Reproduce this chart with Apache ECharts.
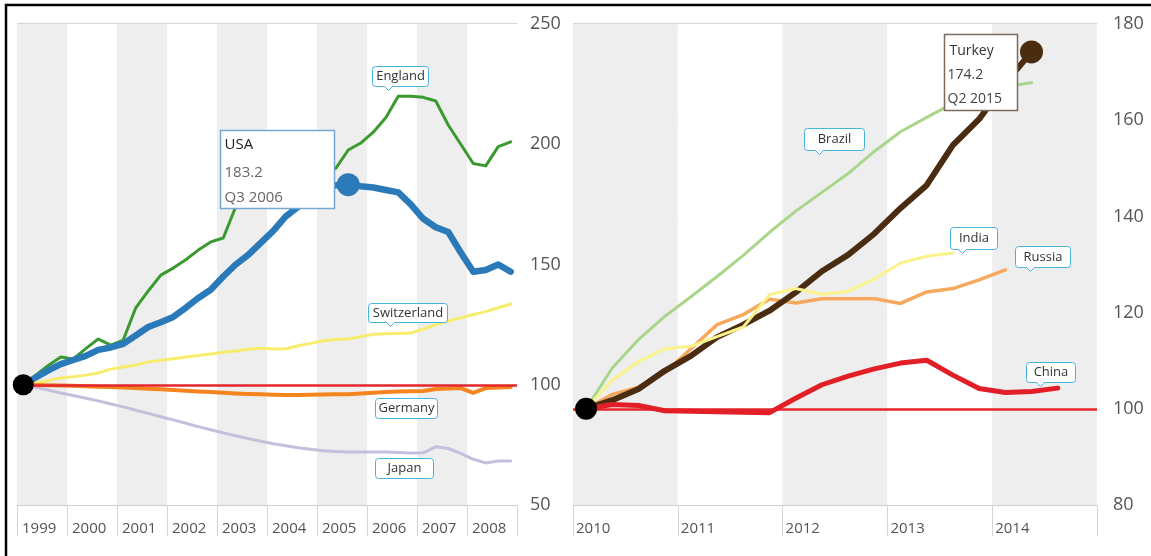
<!DOCTYPE html>
<html>
<head>
<meta charset="utf-8">
<script src="https://cdn.jsdelivr.net/npm/echarts@6/dist/echarts.min.js"></script>
<style>
  html, body { margin: 0; padding: 0; background: #fff; }
  #chart { width: 1151px; height: 556px; }
</style>
</head>
<body>
<div id="chart"></div>
<script>
// House price indices, quarterly, base = 100
const leftStartYear = 1999;
const leftYears = [1999, 2000, 2001, 2002, 2003, 2004, 2005, 2006, 2007, 2008];
const usa = [100, 103, 106, 108.6, 110.3, 112, 114.5, 115.5, 117, 120.5, 124, 126, 128.2, 132, 136.1, 139.5, 145, 150, 154, 159, 164, 170, 174, 178, 181, 183, 183.2, 182.5, 182, 181, 180, 175, 169, 165.5, 163.5, 155, 147, 147.7, 150, 147];
const england = [100, 104, 108, 111.5, 110.7, 115, 119, 116.5, 118.6, 132, 139, 145.6, 148.5, 152, 156, 159.4, 161, 174, 178, 180, 181.5, 183, 184.5, 185.5, 187, 190, 197.6, 200.5, 205, 211, 220, 220, 219.5, 218, 208, 200, 192, 191, 199, 201];
const switzerland = [100, 100.8, 101.8, 102.8, 103.3, 104, 104.9, 106.5, 107.4, 108.2, 109.5, 110.2, 110.8, 111.5, 112.2, 112.8, 113.5, 114, 114.8, 115.2, 114.9, 115, 116.2, 117.2, 118.3, 118.8, 119, 120, 121, 121.2, 121.3, 121.5, 123.2, 125, 126.5, 127.8, 129.2, 130.4, 132, 133.6];
const germany = [100, 99.9, 99.8, 99.7, 99.6, 99.4, 99.2, 99.1, 98.9, 98.6, 98.3, 98.1, 97.8, 97.5, 97.2, 97.0, 96.7, 96.4, 96.2, 96.0, 95.8, 95.7, 95.7, 95.8, 95.9, 96.0, 96.1, 96.4, 96.7, 97.0, 97.2, 97.3, 97.4, 98.2, 98.4, 98.6, 96.6, 98.6, 98.9, 99.1];
const japan = [100, 98.9, 97.8, 96.6, 95.5, 94.4, 93.3, 92.0, 90.8, 89.4, 88.1, 86.7, 85.4, 84.0, 82.6, 81.3, 80.0, 78.8, 77.6, 76.5, 75.5, 74.6, 73.8, 73.2, 72.6, 72.2, 72.0, 72.0, 72.0, 72.0, 71.8, 71.6, 71.7, 74.2, 73.5, 71.5, 69.0, 67.5, 68.3, 68.3];
const leftTicks = [50, 100, 150, 200, 250];

const rightStartYear = 2010;
const rightYears = [2010, 2011, 2012, 2013, 2014];
const brazil = [100, 108.5, 114.4, 119.2, 123.3, 127.5, 131.9, 136.7, 141.1, 145, 148.9, 153.5, 157.6, 160.6, 163.5, 165.5, 167, 167.8];
const turkey = [100, 101.8, 104.1, 107.9, 111, 114.9, 117.5, 120.4, 124.2, 128.6, 132, 136.4, 141.7, 146.5, 154.8, 160.2, 167.7, 174.2];
const india = [100, 106, 109.8, 112.5, 113, 115, 117, 123.7, 125, 123.8, 124.4, 127, 130.3, 131.7, 132.4];
const russia = [100, 103, 104.5, 107.5, 112.5, 117.5, 119.6, 122.8, 122, 122.9, 122.9, 122.9, 121.9, 124.3, 125, 126.8, 128.9];
const china = [100, 100.9, 100.7, 99.6, 99.5, 99.4, 99.3, 99.2, 102.2, 105, 106.8, 108.3, 109.5, 110.1, 107, 104.2, 103.4, 103.6, 104.3];
const rightTicks = [80, 100, 120, 140, 160, 180];

const baseline = 100;
const usaPick = { index: 26, label: 'USA', period: 'Q3 2006' };
const turkeyPick = { index: 17, label: 'Turkey', period: 'Q2 2015' };

const FONT = '"Open Sans", "Noto Sans", sans-serif';

// each quarter is plotted in the middle of its slot within the year band
function quarterPoints(startYear, values) {
  return values.map((v, i) => [startYear + (i + 0.5) / 4, v]);
}

function xAxisFor(gridIndex, years, labelPad) {
  const first = years[0], last = years[years.length - 1] + 1;
  return {
    type: 'value', gridIndex, min: first, max: last, interval: 1,
    axisLine: { show: true, lineStyle: { color: '#cfcfcf', width: 1 } },
    axisTick: { show: true, length: 31, lineStyle: { color: '#d4d4d4', width: 1 } },
    axisLabel: {
      show: true, align: 'left', padding: [0, 0, 0, labelPad], margin: 16,
      color: '#555', fontSize: 15, fontFamily: FONT,
      formatter: v => (years.indexOf(v) >= 0 ? String(v) : '')
    },
    splitLine: { show: false },
    splitArea: { show: true, areaStyle: { color: ['#eeeeee', '#ffffff'] } }
  };
}

function yAxisFor(gridIndex, ticks, margin) {
  return {
    type: 'value', gridIndex, position: 'right',
    min: ticks[0], max: ticks[ticks.length - 1], interval: ticks[1] - ticks[0],
    axisLine: { show: false }, axisTick: { show: false },
    axisLabel: { margin, color: '#555', fontSize: 18, fontFamily: FONT },
    splitLine: { show: true, lineStyle: { color: '#c9c9c9', width: 1.5 } }
  };
}

function lineSeries(name, axis, startYear, values, color, width, z) {
  return {
    name, type: 'line', xAxisIndex: axis, yAxisIndex: axis,
    data: quarterPoints(startYear, values),
    symbol: 'none', showSymbol: false, z,
    lineStyle: { color, width, join: 'round', cap: 'round' }
  };
}

function baseLine(axis, z) {
  return {
    name: 'base' + axis, type: 'line', xAxisIndex: axis, yAxisIndex: axis,
    data: [], symbol: 'none', z,
    markLine: {
      silent: true, symbol: 'none', animation: false,
      label: { show: false },
      lineStyle: { color: '#e3262b', width: 2.5, type: 'solid' },
      data: [{ yAxis: baseline }]
    }
  };
}

function dot(axis, point, color, size, z) {
  return {
    type: 'scatter', xAxisIndex: axis, yAxisIndex: axis,
    data: [point], symbolSize: size, z,
    itemStyle: { color, opacity: 1 }
  };
}

const usaPts = quarterPoints(leftStartYear, usa);
const turkeyPts = quarterPoints(rightStartYear, turkey);

const chart = echarts.init(document.getElementById('chart'), null, { renderer: 'canvas' });

chart.setOption({
  animation: false,
  backgroundColor: '#ffffff',
  grid: [
    { left: 17, top: 24, width: 500, height: 481 },
    { left: 573, top: 24, width: 524, height: 481 }
  ],
  xAxis: [xAxisFor(0, leftYears, 5), xAxisFor(1, rightYears, 3)],
  yAxis: [yAxisFor(0, leftTicks, 13), yAxisFor(1, rightTicks, 16)],
  series: [
    lineSeries('Japan', 0, leftStartYear, japan, '#c4bfdc', 3, 2),
    lineSeries('Switzerland', 0, leftStartYear, switzerland, '#f8ec6c', 3, 2),
    lineSeries('Germany', 0, leftStartYear, germany, '#f5841f', 4, 3),
    baseLine(0, 4),
    lineSeries('England', 0, leftStartYear, england, '#3b9a2f', 3, 5),
    lineSeries('USA', 0, leftStartYear, usa, '#2a7aba', 6.5, 6),
    dot(0, usaPts[0], '#000000', 21, 8),
    dot(0, usaPts[usaPick.index], '#2a7aba', 23, 8),

    lineSeries('Brazil', 1, rightStartYear, brazil, '#a9d68b', 3, 2),
    lineSeries('Russia', 1, rightStartYear, russia, '#f6a95c', 3.5, 3),
    lineSeries('Turkey', 1, rightStartYear, turkey, '#4a2d10', 6, 4),
    lineSeries('India', 1, rightStartYear, india, '#faf38c', 3, 5),
    baseLine(1, 5),
    lineSeries('China', 1, rightStartYear, china, '#e21f26', 5, 6),
    dot(1, turkeyPts[0], '#000000', 22, 8),
    dot(1, turkeyPts[turkeyPick.index], '#4a2d10', 23, 8)
  ]
});

// ---- annotations: callout tags, value boxes and the outer frame ----
function px(axis, x, y) {
  return chart.convertToPixel({ xAxisIndex: axis, yAxisIndex: axis }, [x, y]);
}

function tag(axis, at, w, h, text, tail) {
  const c = px(axis, at[0], at[1]);
  const x0 = Math.round(c[0] - w / 2) + 0.5, y0 = Math.round(c[1] - h / 2) + 0.5;
  const stroke = '#46b3d8';
  const kids = [{
    type: 'rect', z: 50, shape: { x: x0, y: y0, width: w, height: h, r: 3 },
    style: { fill: '#ffffff', stroke, lineWidth: 1 }
  }];
  if (tail !== null) {
    const tx = x0 + tail, by = y0 + h;
    kids.push({ type: 'polygon', z: 51, shape: { points: [[tx - 4, by - 0.6], [tx, by + 4], [tx + 4, by - 0.6]] }, style: { fill: '#ffffff' } });
    kids.push({ type: 'polyline', z: 52, shape: { points: [[tx - 4, by], [tx, by + 4], [tx + 4, by]] }, style: { stroke, lineWidth: 1, fill: null } });
  }
  kids.push({
    type: 'text', z: 53,
    style: {
      text, x: x0 + w / 2, y: y0 + h / 2,
      align: 'center', verticalAlign: 'middle', textAlign: 'center', textVerticalAlign: 'middle',
      font: '13px ' + FONT, fill: '#333'
    }
  });
  return { type: 'group', children: kids };
}

function infoBox(axis, at, w, h, border, lines) {
  const c = px(axis, at[0], at[1]);
  const x0 = Math.round(c[0]) + 0.5, y0 = Math.round(c[1]) + 0.5;
  const kids = [{
    type: 'rect', z: 60, shape: { x: x0, y: y0, width: w, height: h },
    style: { fill: '#ffffff', stroke: border, lineWidth: 1.5 }
  }];
  lines.forEach(l => kids.push({
    type: 'text', z: 61,
    style: {
      text: l.text, x: x0 + l.dx, y: y0 + l.dy,
      align: 'left', verticalAlign: 'middle', textAlign: 'left', textVerticalAlign: 'middle',
      font: l.size + 'px ' + FONT, fill: l.color
    }
  }));
  return { type: 'group', children: kids };
}

const graphics = [
  tag(0, [2006.66, 228.4], 56, 20, 'England', 16),
  tag(0, [2006.81, 130.0], 79, 19, 'Switzerland', 22),
  tag(0, [2006.78, 90.3], 62, 20, 'Germany', null),
  tag(0, [2006.74, 65.4], 58, 20, 'Japan', null),
  tag(1, [2012.49, 156.0], 60, 22, 'Brazil', 15),
  tag(1, [2013.82, 135.5], 47, 22, 'India', 12),
  tag(1, [2014.48, 131.6], 55, 21, 'Russia', 15),
  tag(1, [2014.56, 107.7], 49, 20, 'China', 14),
  infoBox(0, [2003.06, 205.9], 114, 78, '#78a6d4', [
    { text: usaPick.label, dx: 4, dy: 14, size: 15, color: '#222' },
    { text: usa[usaPick.index].toFixed(1), dx: 4, dy: 42, size: 15, color: '#666' },
    { text: usaPick.period, dx: 4, dy: 67, size: 15, color: '#666' }
  ]),
  infoBox(1, [2013.54, 178.0], 73, 76, '#7b6b5c', [
    { text: turkeyPick.label, dx: 5, dy: 17, size: 14, color: '#333' },
    { text: turkey[turkeyPick.index].toFixed(1), dx: 3, dy: 41, size: 14, color: '#444' },
    { text: turkeyPick.period, dx: 3, dy: 65, size: 14, color: '#444' }
  ]),
  {
    type: 'rect', z: 100, silent: true,
    shape: { x: 6, y: 5, width: 1200, height: 600 },
    style: { fill: null, stroke: '#000000', lineWidth: 2.5 }
  }
];

chart.setOption({ graphic: graphics });
</script>
</body>
</html>
